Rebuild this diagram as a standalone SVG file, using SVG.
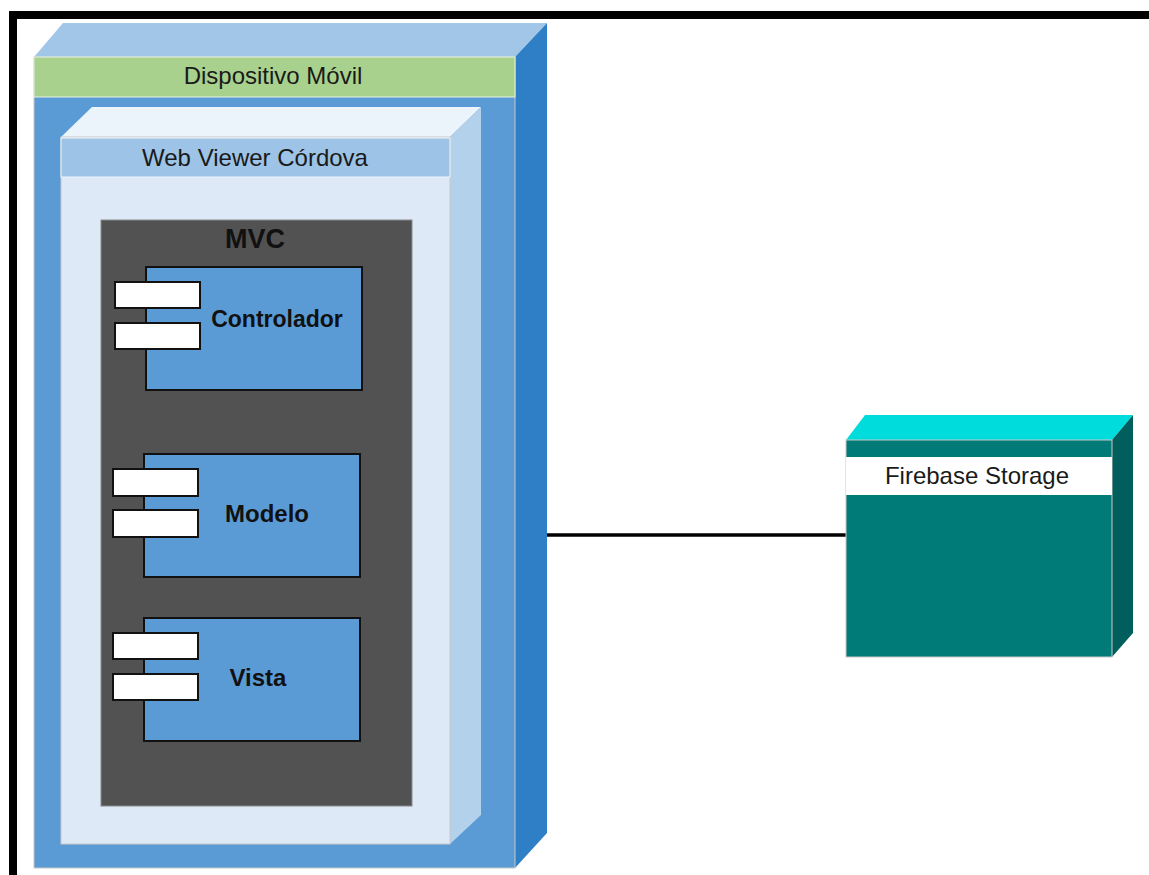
<svg xmlns="http://www.w3.org/2000/svg" width="1149" height="875" viewBox="0 0 1149 875">
<defs>
<style>
text{font-family:"Liberation Sans",Arial,sans-serif;fill:#1a1a1a;text-anchor:middle}
.hdr{font-size:24px}
.bold{font-weight:bold;font-size:23px;fill:#111}
.comp{fill:#5b9bd5;stroke:#111;stroke-width:2}
.tab{fill:#fff;stroke:#111;stroke-width:2}
.edge{stroke:#c8c8c8;stroke-width:1}
</style>
</defs>
<rect width="1149" height="875" fill="#fff"/>
<g id="frame">
<rect x="9" y="11" width="1140" height="8" fill="#000"/>
<rect x="9" y="11" width="8" height="864" fill="#000"/>
</g>
<g id="dispositivo-movil">
<polygon points="34,57 63,23 547,23 515,57" fill="#a2c6e8"/>
<polygon points="515,57 547,23 547,833 515,868" fill="#2e7fc6"/>
<rect x="34" y="57" width="481" height="811" fill="#5b9bd5" class="edge"/>
<rect x="34" y="57" width="481" height="40" fill="#a9d18e" stroke="#e8f0e0" stroke-width="1"/>
<text class="hdr" x="273" y="84">Dispositivo Móvil</text>
</g>
<g id="web-viewer-cordova">
<polygon points="61,137 92,107 481,107 450,137" fill="#ebf3fb"/>
<polygon points="450,137 481,107 481,815 450,844" fill="#b4d1ec"/>
<rect x="61" y="137" width="389" height="707" fill="#dde9f6" class="edge"/>
<rect x="61" y="138" width="389" height="39" fill="#9dc3e6" stroke="#f0f5fb" stroke-width="1"/>
<text class="hdr" x="255" y="166">Web Viewer Córdova</text>
</g>
<g id="mvc">
<rect x="101" y="220" width="311" height="586" fill="#525252" stroke="#8a8a8a" stroke-width="1"/>
<text class="bold" x="255" y="248" style="font-size:27px">MVC</text>
</g>
<g id="controlador">
<rect class="comp" x="146" y="267" width="216" height="123"/>
<rect class="tab" x="115" y="282" width="85" height="26"/>
<rect class="tab" x="115" y="323" width="85" height="26"/>
<text class="bold" x="277" y="327">Controlador</text>
</g>
<g id="modelo">
<rect class="comp" x="144" y="454" width="216" height="123"/>
<rect class="tab" x="113" y="469" width="85" height="27"/>
<rect class="tab" x="113" y="510" width="85" height="27"/>
<text class="bold" x="267" y="522" style="font-size:24px">Modelo</text>
</g>
<g id="vista">
<rect class="comp" x="144" y="618" width="216" height="123"/>
<rect class="tab" x="113" y="633" width="85" height="26"/>
<rect class="tab" x="113" y="674" width="85" height="26"/>
<text class="bold" x="258" y="686" style="font-size:24px">Vista</text>
</g>
<g id="connectors">
<line x1="547" y1="535" x2="846" y2="535" stroke="#000" stroke-width="3.5"/>
</g>
<g id="firebase-storage">
<polygon points="846,440 865,415 1133,415 1112,440" fill="#00dcdc"/>
<polygon points="1112,440 1133,415 1133,633 1112,657" fill="#005f5c"/>
<rect x="846" y="440" width="266" height="217" fill="#007b78" class="edge"/>
<rect x="846" y="457" width="266" height="38" fill="#fff"/>
<text class="hdr" x="977" y="484">Firebase Storage</text>
</g>
</svg>
